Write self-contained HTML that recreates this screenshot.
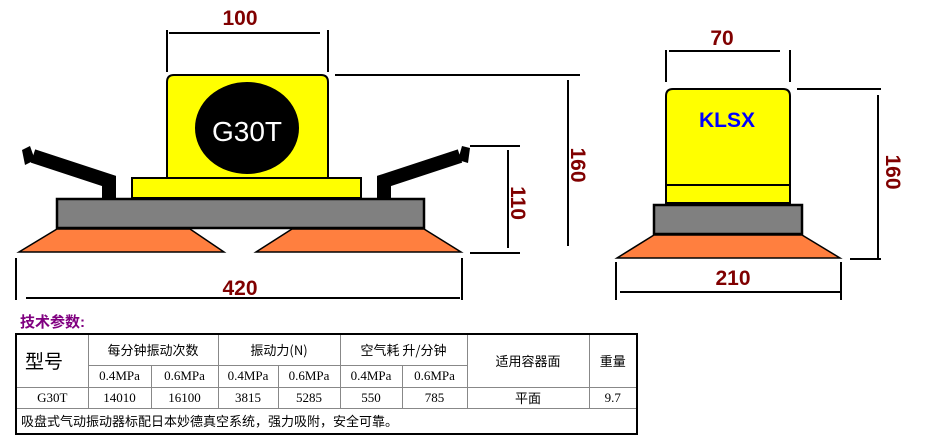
<!DOCTYPE html>
<html><head><meta charset="utf-8"><style>
body{margin:0;background:#fff;width:925px;height:444px;overflow:hidden;position:relative;font-family:"Liberation Serif","Noto Serif CJK SC","Noto Sans CJK SC",serif}
svg{position:absolute;left:0;top:0}
.t{position:absolute;left:20px;top:311px;color:#800080;font:bold 15px "Liberation Sans","Noto Sans CJK SC",sans-serif}
table{position:absolute;left:15px;top:333px;border-collapse:collapse;border:2px solid #000;font-size:13px;width:622px;table-layout:fixed}
td{border:1px solid #888;text-align:center;padding:0;height:20px;font-family:"Liberation Serif","Noto Sans CJK SC",serif;white-space:nowrap;overflow:hidden}
.c{font-family:"Noto Sans CJK SC",sans-serif}
</style></head><body>
<svg width="925" height="444" font-family="Liberation Sans, DejaVu Sans, sans-serif">
<g stroke="#000" stroke-width="2" fill="none">
<line x1="167" y1="30" x2="167" y2="72"/><line x1="328" y1="30" x2="328" y2="72"/><line x1="169" y1="33" x2="320" y2="33"/>
<line x1="335" y1="75" x2="580" y2="75"/><line x1="568" y1="80" x2="568" y2="246"/>
<line x1="470" y1="146" x2="520" y2="146"/><line x1="508" y1="150" x2="508" y2="248"/><line x1="470" y1="253" x2="520" y2="253"/>
<line x1="16" y1="258" x2="16" y2="300"/><line x1="462" y1="258" x2="462" y2="300"/><line x1="26" y1="298" x2="460" y2="298"/>
<line x1="666" y1="50" x2="666" y2="82"/><line x1="790" y1="50" x2="790" y2="82"/><line x1="669" y1="51" x2="780" y2="51"/>
<line x1="797" y1="89" x2="881" y2="89"/><line x1="878" y1="95" x2="878" y2="258"/><line x1="850" y1="259" x2="881" y2="259"/>
<line x1="616" y1="262" x2="616" y2="300"/><line x1="841" y1="262" x2="841" y2="300"/><line x1="620" y1="292" x2="840" y2="292"/>
</g>
<g stroke="#000" stroke-width="14" fill="none" stroke-linejoin="miter">
<polyline points="109,199 109,181 33,156"/><polyline points="384,199 384,181 460,156"/>
</g>
<path d="M22,150 L30,146 L35,160 L25,165Z M470,148 L462,146 L458,160 L468,163Z" fill="#000"/>
<g stroke="#000" stroke-width="2">
<path d="M167,198 V82 Q167,75 174,75 H321 Q328,75 328,82 V198Z" fill="#ffff00"/>
<ellipse cx="247" cy="128" rx="51" ry="45" fill="#000"/>
<rect x="132" y="178" width="229" height="20" fill="#ffff00"/>
<rect x="57" y="199" width="367" height="29" fill="#808080" stroke-width="2.5"/>
<path d="M57,229 H190 L224,252 H19Z" fill="#ff7f3f" stroke-width="1.5"/>
<path d="M292,229 H424 L461,252 H256Z" fill="#ff7f3f" stroke-width="1.5"/>
<path d="M666,203 V96 Q666,89 673,89 H783 Q790,89 790,96 V203Z" fill="#ffff00"/>
<line x1="666" y1="185" x2="790" y2="185"/>
<rect x="654" y="205" width="148" height="29" fill="#808080" stroke-width="2.5"/>
<path d="M654,235 H802 L840,258 H617Z" fill="#ff7f3f" stroke-width="1.5"/>
</g>
<text x="247" y="141" fill="#fff" font-size="28" text-anchor="middle">G30T</text>
<text x="727" y="127" fill="#0000ff" font-size="21" font-weight="bold" text-anchor="middle">KLSX</text>
<g fill="#800000" font-size="21" font-weight="bold" text-anchor="middle">
<text x="240" y="25">100</text><text x="240" y="295">420</text>
<text x="722" y="45">70</text><text x="733" y="285">210</text>
<text transform="translate(571,165) rotate(90)">160</text>
<text transform="translate(511,203) rotate(90)">110</text>
<text transform="translate(886,172) rotate(90)">160</text>
</g>
</svg>
<div class="t">技术参数:</div>
<table>
<colgroup><col style="width:72px"><col style="width:63px"><col style="width:67px"><col style="width:60px"><col style="width:62px"><col style="width:62px"><col style="width:65px"><col style="width:122px"><col style="width:48px"></colgroup>
<tr style="height:31px"><td rowspan="2" class="c" style="font-size:19px;text-align:left;padding-left:8px">型号</td><td colspan="2" class="c">每分钟振动次数</td><td colspan="2" class="c">振动力(N)</td><td colspan="2" class="c">空气耗 升/分钟</td><td rowspan="2" class="c">适用容器面</td><td rowspan="2" class="c">重量</td></tr>
<tr style="height:22px"><td>0.4MPa</td><td>0.6MPa</td><td>0.4MPa</td><td>0.6MPa</td><td>0.4MPa</td><td>0.6MPa</td></tr>
<tr style="height:20px"><td>G30T</td><td>14010</td><td>16100</td><td>3815</td><td>5285</td><td>550</td><td>785</td><td class="c">平面</td><td>9.7</td></tr>
<tr style="height:26px"><td colspan="9" class="c" style="text-align:left;padding-left:4px">吸盘式气动振动器标配日本妙德真空系统，强力吸附，安全可靠。</td></tr>
</table>
</body></html>
